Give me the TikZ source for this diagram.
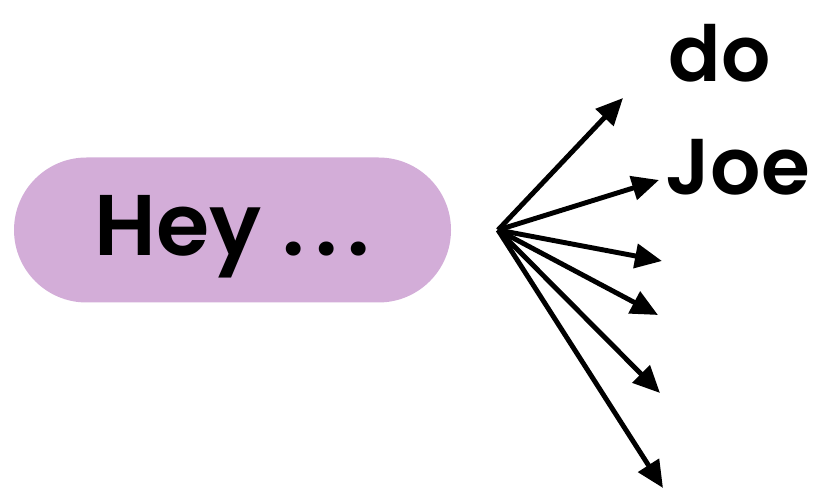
\documentclass[tikz,border=0pt]{standalone}
\usepackage{fontspec}
\setmainfont{Poppins}[BoldFont={Poppins SemiBold}]
\usepackage{xcolor}
\definecolor{heyPurple}{RGB}{211, 173, 216}
\usepackage{tikz}
\usetikzlibrary{arrows.meta, positioning}

\newcommand{\spreaddots}{.\kern3pt.\kern3pt.}

\begin{document}
\begin{tikzpicture}[x=0.1mm, y=-0.1mm,
  prompt/.style={rectangle, rounded corners=0.725cm, fill=heyPurple,
                 minimum width=4.37cm, minimum height=1.45cm, inner sep=0pt,
                 text height=0.61cm, text depth=0.09cm,
                 font=\fontsize{24.5}{29}\selectfont\bfseries},
  word/.style={anchor=base west, inner sep=0pt, font=\bfseries},
  arrow/.style={-{Triangle[length=0.27cm, width=0.24cm]}, line width=1.4pt},
]
  \useasboundingbox (0,0) rectangle (820,491);

  \node[prompt] (hey) at (232.5,230) {Hey \spreaddots};

  % fan of next-token arrows
  \coordinate (fan) at (498,230);
  \coordinate (t1) at (623,98);
  \coordinate (t2) at (659,180);
  \coordinate (t3) at (662,261);
  \coordinate (t4) at (658,315);
  \coordinate (t5) at (660,393);
  \coordinate (t6) at (663,488);

  \node[word, font=\fontsize{22}{27}\selectfont\bfseries] (do) at (668,82) {do};
  \node[word, font=\fontsize{22.5}{28}\selectfont\bfseries] (joe) at (665,195) {Joe};

  \foreach \t in {t1,t2,t3,t4,t5,t6}
    \draw[arrow] (fan) -- (\t);
\end{tikzpicture}
\end{document}
